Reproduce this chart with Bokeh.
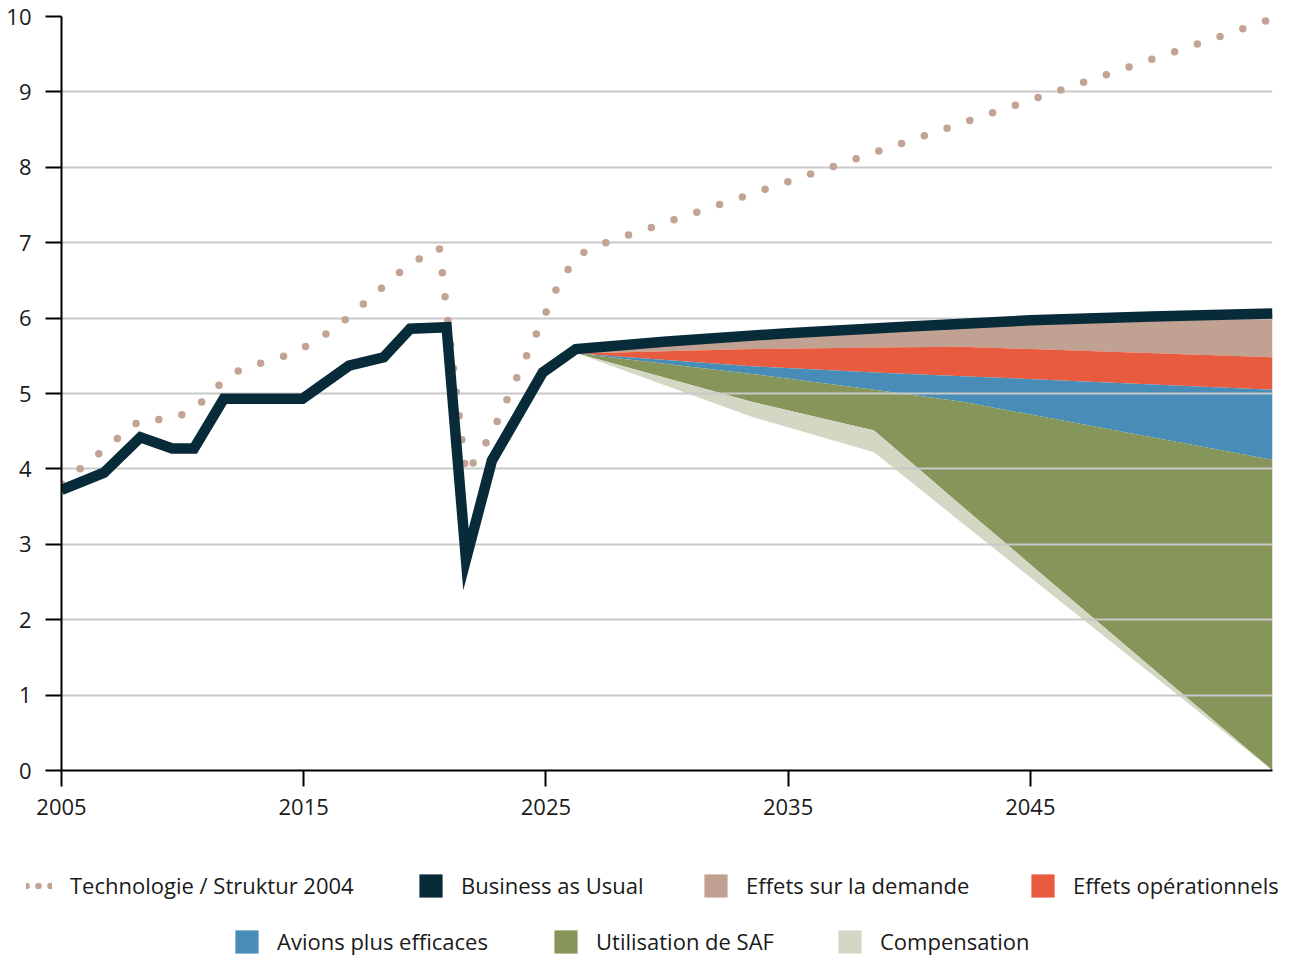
from bokeh.plotting import figure
from bokeh.models import Range1d, Legend, LegendItem, FixedTicker
from bokeh.embed import file_html
from bokeh.resources import INLINE

FONT = "Open Sans"

# ---- data ----
bau_years = [2005.0, 2006.75, 2008.26, 2009.57, 2010.47, 2011.7, 2014.95, 2016.87,
             2018.3, 2019.4, 2020.9, 2021.7, 2022.77, 2024.87, 2026.24,
             2030, 2035, 2040, 2045, 2050, 2055]
bau = [3.72, 3.95, 4.42, 4.27, 4.27, 4.93, 4.93, 5.37,
       5.48, 5.86, 5.88, 2.80, 4.11, 5.28, 5.59,
       5.69, 5.80, 5.89, 5.97, 6.02, 6.06]

tech_years = [2005.0, 2008.26, 2009.57, 2010.47, 2011.7, 2012.5, 2014.0, 2015.2,
              2016.4, 2019.3, 2020.6, 2021.7, 2022.77, 2025.55, 2026.3, 2027.2,
              2035, 2045, 2055]
tech = [3.80, 4.65, 4.66, 4.79, 5.17, 5.34, 5.47, 5.64,
        5.89, 6.70, 6.93, 3.93, 4.47, 6.47, 6.83, 6.97,
        7.81, 8.89, 9.97]

area_years = [2026.3, 2033.5, 2038.55, 2042.2, 2055.0]
bau_top = [5.59, 5.77, 5.86, 5.92, 6.06]
after_demand = [5.53, 5.59, 5.61, 5.62, 5.48]
after_operations = [5.53, 5.36, 5.28, 5.23, 5.05]
after_aircraft = [5.53, 5.26, 5.05, 4.89, 4.12]
after_saf = [5.53, 4.89, 4.51, 3.50, 0.0]
after_compensation = [5.53, 4.69, 4.22, 3.28, 0.0]

x_ticks = [2005, 2015, 2025, 2035, 2045]
y_ticks = [0, 1, 2, 3, 4, 5, 6, 7, 8, 9, 10]

labels_row1 = ["Technologie / Struktur 2004", "Business as Usual",
               "Effets sur la demande", "Effets opérationnels"]
labels_row2 = ["Avions plus efficaces", "Utilisation de SAF", "Compensation"]

C_BAU = "#072b38"
C_DOT = "#c3a393"
C_DEMAND = "#c1a191"
C_OPS = "#e85b3f"
C_AIR = "#478db8"
C_SAF = "#869559"
C_COMP = "#d3d7c3"
C_GRID = "#c9c9c9"

MAIN_H = 830
LEG_H = 956 - MAIN_H

p = figure(width=1294, height=MAIN_H,
           x_range=Range1d(2005, 2055), y_range=Range1d(0, 10),
           output_backend="svg", toolbar_location=None,
           min_border_left=61, min_border_right=22, min_border_top=16,
           min_border_bottom=MAIN_H - 770)
p.outline_line_color = None
p.background_fill_color = "white"
p.border_fill_color = "white"

# stacked reduction areas (below grid)
area_style = dict(level="image")
p.varea(x=area_years, y1=after_demand, y2=bau_top, fill_color=C_DEMAND, **area_style)
p.varea(x=area_years, y1=after_operations, y2=after_demand, fill_color=C_OPS, **area_style)
p.varea(x=area_years, y1=after_aircraft, y2=after_operations, fill_color=C_AIR, **area_style)
p.varea(x=area_years, y1=after_saf, y2=after_aircraft, fill_color=C_SAF, **area_style)
p.varea(x=area_years, y1=after_compensation, y2=after_saf, fill_color=C_COMP, **area_style)

# lines
p.line(tech_years, tech, line_color=C_DOT, line_width=7.5,
       line_dash="0 24", line_cap="round")
p.line(bau_years, bau, line_color=C_BAU, line_width=10.5, line_join="miter")

# grid
p.xgrid.visible = False
p.ygrid.ticker = FixedTicker(ticks=y_ticks)
p.ygrid.grid_line_color = C_GRID
p.ygrid.grid_line_width = 2

# axes
for ax in (p.xaxis[0], p.yaxis[0]):
    ax.axis_line_color = "black"
    ax.axis_line_width = 2
    ax.major_tick_line_color = "black"
    ax.major_tick_line_width = 2
    ax.major_tick_out = 16
    ax.major_tick_in = 0
    ax.minor_tick_line_color = None
    ax.major_label_text_font = FONT
    ax.major_label_text_font_size = "22px"
    ax.major_label_text_color = "#1a1a1a"
p.xaxis[0].ticker = FixedTicker(ticks=x_ticks)
p.yaxis[0].ticker = FixedTicker(ticks=y_ticks)
p.xaxis[0].major_label_standoff = 12
p.yaxis[0].major_label_standoff = 14

# ---- legend strip: separate figure in pixel units; its renderers carry the
# real series, which lie outside its ranges, so only their legend swatches show ----
lf = figure(width=1294, height=LEG_H, x_range=Range1d(0, 1294), y_range=Range1d(0, LEG_H),
            x_axis_type=None, y_axis_type=None, output_backend="svg",
            toolbar_location=None, min_border=0)
lf.outline_line_color = None
lf.grid.visible = False

g_tech = lf.line(tech_years, tech, line_color=C_DOT, line_width=6.5,
                 line_dash="0 12", line_cap="round")
g_bau = lf.varea(x=bau_years, y1=bau, y2=bau, fill_color=C_BAU)
g_demand = lf.varea(x=area_years, y1=after_demand, y2=bau_top, fill_color=C_DEMAND)
g_ops = lf.varea(x=area_years, y1=after_operations, y2=after_demand, fill_color=C_OPS)
g_air = lf.varea(x=area_years, y1=after_aircraft, y2=after_operations, fill_color=C_AIR)
g_saf = lf.varea(x=area_years, y1=after_saf, y2=after_aircraft, fill_color=C_SAF)
g_comp = lf.varea(x=area_years, y1=after_compensation, y2=after_saf, fill_color=C_COMP)

ROW1_Y = 56
ROW2_Y = 0
legend_specs = [
    (labels_row1[0], g_tech, 26, ROW1_Y, 26, 18),
    (labels_row1[1], g_bau, 416, ROW1_Y, 29, 16),
    (labels_row1[2], g_demand, 701, ROW1_Y, 29, 16),
    (labels_row1[3], g_ops, 1028, ROW1_Y, 29, 16),
    (labels_row2[0], g_air, 232, ROW2_Y, 29, 16),
    (labels_row2[1], g_saf, 551, ROW2_Y, 29, 16),
    (labels_row2[2], g_comp, 835, ROW2_Y, 29, 16),
]
for label, rend, lx, ly, gw, st in legend_specs:
    lg = Legend(items=[LegendItem(label=label, renderers=[rend])],
                location=(lx, ly), orientation="horizontal",
                label_text_font=FONT, label_text_font_size="22px",
                label_text_color="#1a1a1a", label_height=29,
                glyph_width=gw, glyph_height=29, label_standoff=st,
                spacing=0, padding=0, margin=0,
                border_line_color=None, background_fill_alpha=0)
    lf.add_layout(lg)

open("out.html", "w").write(file_html([p, lf], INLINE))
